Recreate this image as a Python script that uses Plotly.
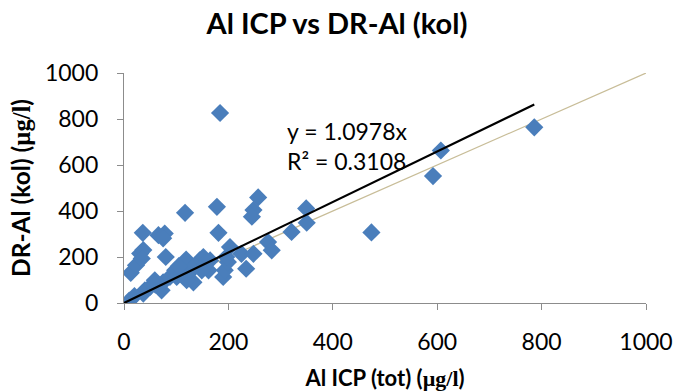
import plotly.graph_objects as go

# Data (Al ICP total vs DR-Al kol, µg/l)
icp_tot = [10, 13, 23, 31, 37, 34, 36, 66, 78, 75, 117, 178, 181, 184, 257, 248, 245,
           80, 119, 40, 50, 59, 72, 75, 88, 98, 101, 110, 123, 133, 136, 145, 152, 155,
           162, 165, 149, 190, 193, 199, 203, 196, 225, 234, 248, 276, 283, 321, 349,
           350, 474, 592, 607, 786, 37, 120, 130, 20, 60, 105]
dr_kol = [10, 131, 164, 215, 230, 193, 305, 295, 302, 281, 392, 418, 305, 826, 459, 404, 375,
          200, 189, 55, 70, 99, 55, 90, 113, 142, 113, 127, 127, 90, 163, 185, 200, 171,
          142, 185, 142, 113, 142, 178, 243, 200, 214, 149, 214, 265, 229, 309, 411,
          349, 307, 552, 663, 764, 41, 99, 150, 30, 80, 160]

trend_slope = 1.0978
trend_r2 = 0.3108
ref_line = [0, 1000]          # 1:1 reference line endpoints
ticks = [0, 200, 400, 600, 800, 1000]

FONT = "Lato, 'Open Sans', sans-serif"

fig = go.Figure()

# 1:1 line
fig.add_trace(go.Scatter(x=ref_line, y=ref_line, mode="lines",
                         line=dict(color="#c8bd98", width=1.2),
                         hoverinfo="skip", showlegend=False))

# data points
fig.add_trace(go.Scatter(x=icp_tot, y=dr_kol, mode="markers",
                         marker=dict(symbol="diamond", size=14, color="#4a7ebb",
                                     line=dict(width=0)),
                         showlegend=False))

# linear trend through origin
xmax = max(icp_tot)
fig.add_trace(go.Scatter(x=[0, xmax], y=[0, trend_slope * xmax], mode="lines",
                         line=dict(color="black", width=2.2),
                         hoverinfo="skip", showlegend=False))

fig.add_annotation(x=308, y=683, xref="x", yref="y", xanchor="left", yanchor="middle",
                   text=f"y = {trend_slope}x<br>R² = {trend_r2}", showarrow=False,
                   align="left", font=dict(family=FONT, size=23, color="black"))

axis_common = dict(range=[0, 1000], tickvals=ticks, showgrid=False, zeroline=False,
                   showline=True, linecolor="#8c8c8c", linewidth=1.3, automargin=False,
                   ticks="outside", ticklen=6, tickcolor="#8c8c8c", tickwidth=1.3,
                   tickfont=dict(family=FONT, size=23, color="black"))

fig.update_xaxes(**axis_common, ticklabelstandoff=12,
                 title=dict(text="<b>Al ICP (tot) (<span style='font-family:Liberation Serif'>µg/l</span>)</b>",
                            font=dict(family=FONT, size=22, color="black"), standoff=16))
fig.update_yaxes(**axis_common, ticklabelstandoff=14,
                 title=dict(text="<b>DR-Al (kol) (<span style='font-family:Liberation Serif'>µg/l</span>)</b>",
                            font=dict(family=FONT, size=24.5, color="black"), standoff=7))

fig.update_layout(
    width=674, height=392,
    margin=dict(l=124, r=28, t=73, b=89),
    paper_bgcolor="white", plot_bgcolor="white",
    title=dict(text="<b>Al ICP vs DR-Al (kol)</b>", x=0.5, xanchor="center",
               y=0.94, yanchor="middle",
               font=dict(family=FONT, size=29, color="black")),
)

fig.write_html("out.html", config={"displayModeBar": False},
               post_script="document.body.style.margin='0';")
